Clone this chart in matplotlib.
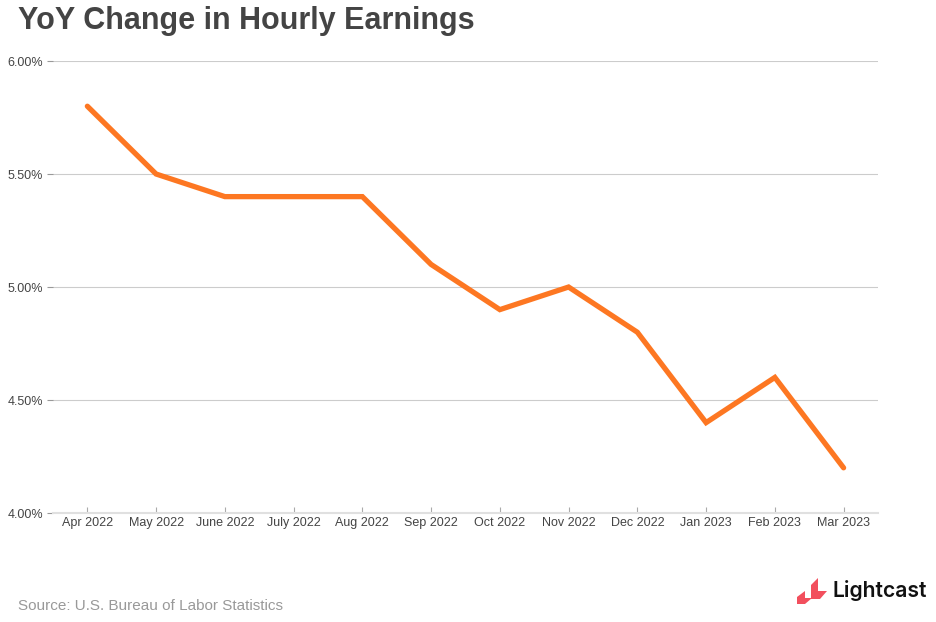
import matplotlib.pyplot as plt
from matplotlib.patches import Polygon

months = ['Apr 2022', 'May 2022', 'June 2022', 'July 2022', 'Aug 2022', 'Sep 2022',
          'Oct 2022', 'Nov 2022', 'Dec 2022', 'Jan 2023', 'Feb 2023', 'Mar 2023']
yoy = [5.8, 5.5, 5.4, 5.4, 5.4, 5.1, 4.9, 5.0, 4.8, 4.4, 4.6, 4.2]
yticks = [4.0, 4.5, 5.0, 5.5, 6.0]

plt.rcParams['font.family'] = ['Liberation Sans', 'DejaVu Sans']

W, H = 936, 622
fig = plt.figure(figsize=(W / 100, H / 100), dpi=100)
ax = fig.add_axes([0.0566, 0.1752, 0.8814, 0.7267])

x = range(len(months))
ax.plot(x, yoy, color='#fd7722', linewidth=3.8, solid_capstyle='round', solid_joinstyle='miter', zorder=3)

ax.set_xlim(-0.5, len(months) - 0.5)
ax.set_ylim(4.0, 6.0)
ax.set_yticks(yticks)
ax.set_yticklabels(['%.2f%%' % v for v in yticks])
ax.set_xticks(list(x))
ax.set_xticklabels(months)
ax.grid(axis='y', color='#cccccc', linewidth=0.8)
ax.set_axisbelow(True)
for s in ['top', 'right', 'left']:
    ax.spines[s].set_visible(False)
ax.spines['bottom'].set_color('#e0e0e0')
ax.spines['bottom'].set_linewidth(1.5)
ax.spines['bottom'].set_zorder(2.5)
ax.tick_params(axis='y', length=4, color='#999999', labelsize=9, labelcolor='#444444', pad=3)
ax.tick_params(axis='x', length=4, direction='in', color='#aaaaaa', labelsize=9, labelcolor='#444444', pad=3)

fig.text(0.019, 0.967, 'YoY Change in Hourly Earnings', fontsize=22, fontweight='bold',
         color='#444444', va='center', ha='left')
fig.text(0.019, 0.025, 'Source: U.S. Bureau of Labor Statistics', fontsize=11,
         color='#999999', va='center', ha='left')

# logo (pixel coords from top-left of the image)
col = '#f24f5d'
left_piece = [(797, 604), (797, 597), (805, 591), (805, 598), (812, 598), (805, 604)]
right_piece = [(811, 599), (811, 585), (818, 578), (818, 591), (827, 591), (820, 599)]
for pts in [left_piece, right_piece]:
    fig.patches.append(Polygon([(px, H - py) for px, py in pts], closed=True, transform=None,
                               facecolor=col, edgecolor='none'))
fig.text(833 / W, 1 - 597 / H, 'Lightcast', fontsize=15.2, fontweight='semibold', family=['Inter', 'DejaVu Sans'],
         color='#111111', va='baseline', ha='left')

fig.savefig('out.png', dpi=100)
